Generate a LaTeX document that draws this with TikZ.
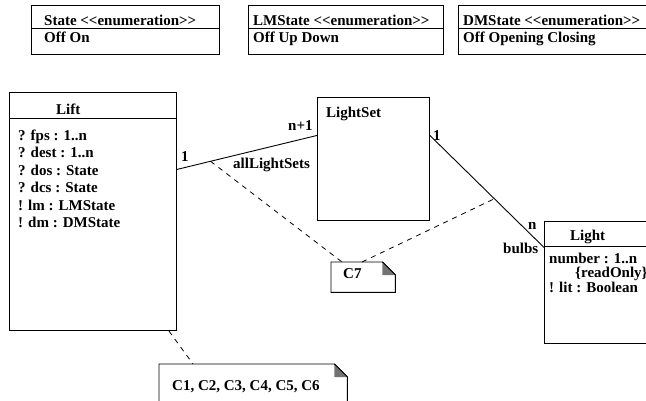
\documentclass[tikz,border=0pt]{standalone}
\usepackage{fontspec}
\newfontfamily\umlfont{Liberation Serif}
\usetikzlibrary{calc}

\tikzset{
  box/.style={draw, rectangle, anchor=north west, inner sep=0pt, line width=0.9pt},
  txt/.style={anchor=base west, inner sep=0pt, font=\umlfont\bfseries\fontsize{15}{18}\selectfont},
  assoc/.style={line width=0.9pt},
  link/.style={line width=0.8pt, dash pattern=on 5pt off 5pt},
  notebox/.style={anchor=north west, inner sep=0pt, minimum height=30},
  fold/.style={fill=black!55},
}

\begin{document}
\begin{tikzpicture}[x=1pt, y=-1pt]
    \useasboundingbox (0,0) rectangle (646,400);

    % Enumerations
    \node (state) [box, minimum width=188, minimum height=49] at (31,5) {};
    \draw[line width=0.9pt] ([yshift=-23pt]state.north west) -- ([yshift=-23pt]state.north east);
    \node (statehead) [txt] at (44,25) {State <<enumeration>>};
    \node (statelits) [txt] at (44,42) {Off On};

    \node (lmstate) [box, minimum width=195, minimum height=49] at (248,5) {};
    \draw[line width=0.9pt] ([yshift=-23pt]lmstate.north west) -- ([yshift=-23pt]lmstate.north east);
    \node (lmhead) [txt] at (253,25) {LMState <<enumeration>>};
    \node (lmlits) [txt] at (253,42) {Off Up Down};

    \node (dmstate) [box, minimum width=200, minimum height=49] at (458,5) {};
    \draw[line width=0.9pt] ([yshift=-23pt]dmstate.north west) -- ([yshift=-23pt]dmstate.north east);
    \node (dmhead) [txt] at (463,25) {DMState <<enumeration>>};
    \node (dmlits) [txt] at (463,42) {Off Opening Closing};

    % Classes
    \node (lift) [box, minimum width=167, minimum height=238] at (9,92) {};
    \draw[line width=0.9pt] ([yshift=-26pt]lift.north west) -- ([yshift=-26pt]lift.north east);
    \node (lifthead) [txt] at (56,114) {Lift};
    \node (fps) [txt] at (18,140) {? fps : 1..n};
    \node (dest) [txt] at (18,157.5) {? dest : 1..n};
    \node (dos) [txt] at (18,175) {? dos : State};
    \node (dcs) [txt] at (18,192.5) {? dcs : State};
    \node (lm) [txt] at (18,210) {! lm : LMState};
    \node (dm) [txt] at (18,227.5) {! dm : DMState};

    \node (lightset) [box, minimum width=112, minimum height=123] at (317,97) {};
    \node (lightsethead) [txt] at (326,117) {LightSet};

    \node (light) [box, minimum width=120, minimum height=122] at (544,221) {};
    \draw[line width=0.9pt] ([yshift=-25pt]light.north west) -- ([yshift=-25pt]light.north east);
    \node (lighthead) [txt] at (570,240) {Light};
    \node (number) [txt] at (549,263) {number : 1..n};
    \node (readonly) [txt] at (575,277) {\{readOnly\}};
    \node (lit) [txt] at (549,292) {! lit : Boolean};

    % Associations
    \draw[assoc] ([yshift=42pt]lift.east) -- coordinate[pos=0.24] (setsmid) ([yshift=23.5pt]lightset.west);
    \draw[assoc] ([yshift=23.5pt]lightset.east) -- coordinate[pos=0.565] (bulbsmid) ([yshift=35pt]light.west);
    \node (liftmult) [txt] at (181,161) {1};
    \node (setsmult) [txt] at (288,130) {n+1};
    \node (setsrole) [txt] at (233,168) {allLightSets};
    \node (setmult) [txt] at (433,140) {1};
    \node (bulbsmult) [txt] at (528,229) {n};
    \node (bulbsrole) [txt] at (503,253) {bulbs};

    % Notes
    \node (c7) [notebox, minimum width=64] at (331,262) {};
    \draw[line width=0.9pt] (c7.north west) -- ([xshift=-13pt]c7.north east) -- ([yshift=-13pt]c7.north east)
        -- (c7.south east) -- (c7.south west) -- cycle;
    \fill[fold] ([xshift=-13pt]c7.north east) -- ([yshift=-13pt]c7.north east) -- ([xshift=-13pt,yshift=-13pt]c7.north east) -- cycle;
    \draw[line width=0.9pt] ([xshift=-13pt]c7.north east) -- ([yshift=-13pt]c7.north east);
    \node (c7text) [txt] at (343,278) {C7};

    \node (c16) [notebox, minimum width=188, minimum height=46] at (159,364) {};
    \draw[line width=0.9pt] (c16.north west) -- ([xshift=-13pt]c16.north east) -- ([yshift=-13pt]c16.north east)
        -- (c16.south east) -- (c16.south west) -- cycle;
    \fill[fold] ([xshift=-13pt]c16.north east) -- ([yshift=-13pt]c16.north east) -- ([xshift=-13pt,yshift=-13pt]c16.north east) -- cycle;
    \draw[line width=0.9pt] ([xshift=-13pt]c16.north east) -- ([yshift=-13pt]c16.north east);
    \node (c16text) [txt] at (172,390) {C1, C2, C3, C4, C5, C6};

    % Note links
    \draw[link] (setsmid) -- ([xshift=11pt]c7.north west);
    \draw[link] ([xshift=31pt]c7.north west) -- (bulbsmid);
    \draw[link] ([xshift=-8pt]lift.south east) -- ([xshift=34pt]c16.north west);
\end{tikzpicture}
\end{document}
